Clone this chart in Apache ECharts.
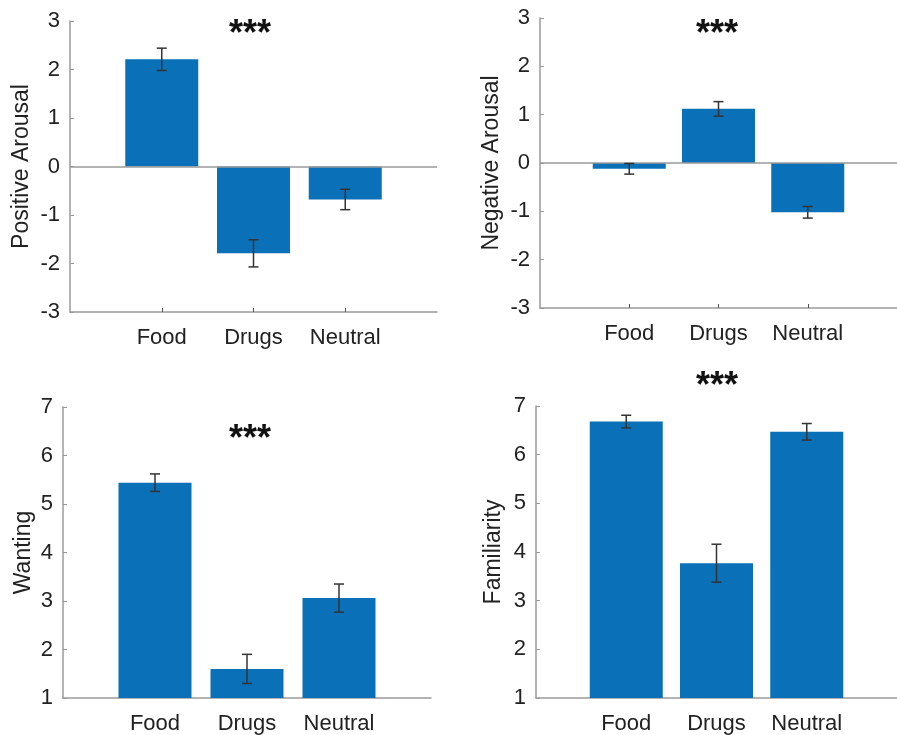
<!DOCTYPE html>
<html>
<head>
<meta charset="utf-8">
<script src="https://cdn.jsdelivr.net/npm/echarts@6/dist/echarts.min.js"></script>
<style>
  html, body { margin: 0; padding: 0; background: #fff; }
  #chart { width: 897px; height: 735px; }
</style>
</head>
<body>
<div id="chart"></div>
<script>
const categories = ['Food', 'Drugs', 'Neutral'];

const positiveArousal = [2.21, -1.79, -0.68];
const positiveArousalErr = [0.23, 0.28, 0.21];

const negativeArousal = [-0.12, 1.12, -1.02];
const negativeArousalErr = [0.11, 0.15, 0.12];

const wanting = [5.44, 1.6, 3.06];
const wantingErr = [0.18, 0.3, 0.29];

const familiarity = [6.68, 3.77, 6.47];
const familiarityErr = [0.13, 0.39, 0.17];

const panelNames = ['Positive Arousal', 'Negative Arousal', 'Wanting', 'Familiarity'];
const yRanges = [[-3, 3], [-3, 3], [1, 7], [1, 7]];

const BAR_COLOR = '#0a70b8';
const AXIS_COLOR = '#9a9a9a';
const TEXT_COLOR = '#222';
const FONT = 'Liberation Sans';

const grids = [
    { left: 70, top: 21, width: 367, height: 291 },
    { left: 540, top: 18, width: 368, height: 290 },
    { left: 63, top: 407, width: 368, height: 293 },
    { left: 536, top: 406, width: 366, height: 292 }
];
const nameGaps = [37, 37, 28, 31];

const values = [positiveArousal, negativeArousal, wanting, familiarity];
const errors = [positiveArousalErr, negativeArousalErr, wantingErr, familiarityErr];

const xAxes = grids.map((g, i) => ({
    type: 'value',
    gridIndex: i,
    min: 0,
    max: 4,
    interval: 1,
    axisLine: { show: true, onZero: false, lineStyle: { color: AXIS_COLOR, width: 1.5 } },
    axisTick: { show: true, inside: true, length: 4, customValues: [1, 2, 3], lineStyle: { color: '#555' } },
    axisLabel: {
        customValues: [1, 2, 3],
        formatter: v => categories[v - 1] || '',
        color: TEXT_COLOR, fontSize: 22, fontFamily: FONT, margin: 15
    },
    splitLine: { show: false }
}));

const yAxes = grids.map((g, i) => ({
    type: 'value',
    gridIndex: i,
    min: yRanges[i][0],
    max: yRanges[i][1],
    interval: 1,
    startValue: yRanges[i][0] > 0 ? yRanges[i][0] : 0,
    name: panelNames[i],
    nameLocation: 'middle',
    nameRotate: 90,
    nameGap: nameGaps[i],
    nameTextStyle: { color: TEXT_COLOR, fontSize: 23, fontFamily: FONT },
    axisLine: { show: true, onZero: false, lineStyle: { color: AXIS_COLOR, width: 1.5 } },
    axisTick: { show: true, inside: true, length: 4, lineStyle: { color: AXIS_COLOR } },
    axisLabel: { color: TEXT_COLOR, fontSize: 22, fontFamily: FONT, margin: 10 },
    splitLine: { show: false }
}));

const series = [];
values.forEach((vals, i) => {
    series.push({
        type: 'bar',
        xAxisIndex: i,
        yAxisIndex: i,
        barWidth: 73,
        clip: true,
        data: vals.map((v, k) => [k + 1, v]),
        itemStyle: { color: BAR_COLOR },
        markLine: i < 2 ? {
            silent: true,
            symbol: 'none',
            label: { show: false },
            lineStyle: { color: AXIS_COLOR, width: 1.5, type: 'solid' },
            data: [{ yAxis: 0 }]
        } : undefined
    });
    series.push({
        type: 'custom',
        xAxisIndex: i,
        yAxisIndex: i,
        data: vals.map((v, k) => [k + 1, v - errors[i][k], v + errors[i][k]]),
        renderItem: function (params, api) {
            const x = api.value(0);
            const lo = api.coord([x, api.value(1)]);
            const hi = api.coord([x, api.value(2)]);
            const half = 5;
            const style = { stroke: '#333', lineWidth: 1.5 };
            return {
                type: 'group',
                children: [
                    { type: 'line', shape: { x1: lo[0], y1: lo[1], x2: hi[0], y2: hi[1] }, style: style },
                    { type: 'line', shape: { x1: lo[0] - half, y1: lo[1], x2: lo[0] + half, y2: lo[1] }, style: style },
                    { type: 'line', shape: { x1: hi[0] - half, y1: hi[1], x2: hi[0] + half, y2: hi[1] }, style: style }
                ]
            };
        },
        z: 10
    });
});

// significance stars
const stars = [
    { left: 250, top: 35 },
    { left: 717, top: 35 },
    { left: 250, top: 440 },
    { left: 717, top: 387 }
];

const chart = echarts.init(document.getElementById('chart'));
chart.setOption({
    animation: false,
    backgroundColor: '#fff',
    grid: grids,
    xAxis: xAxes,
    yAxis: yAxes,
    series: series,
    graphic: stars.map(s => ({
        type: 'text',
        x: s.left,
        y: s.top,
        style: {
            text: '***',
            fill: '#111',
            font: 'bold 36px ' + FONT,
            align: 'center',
            verticalAlign: 'middle'
        }
    }))
});
</script>
</body>
</html>
